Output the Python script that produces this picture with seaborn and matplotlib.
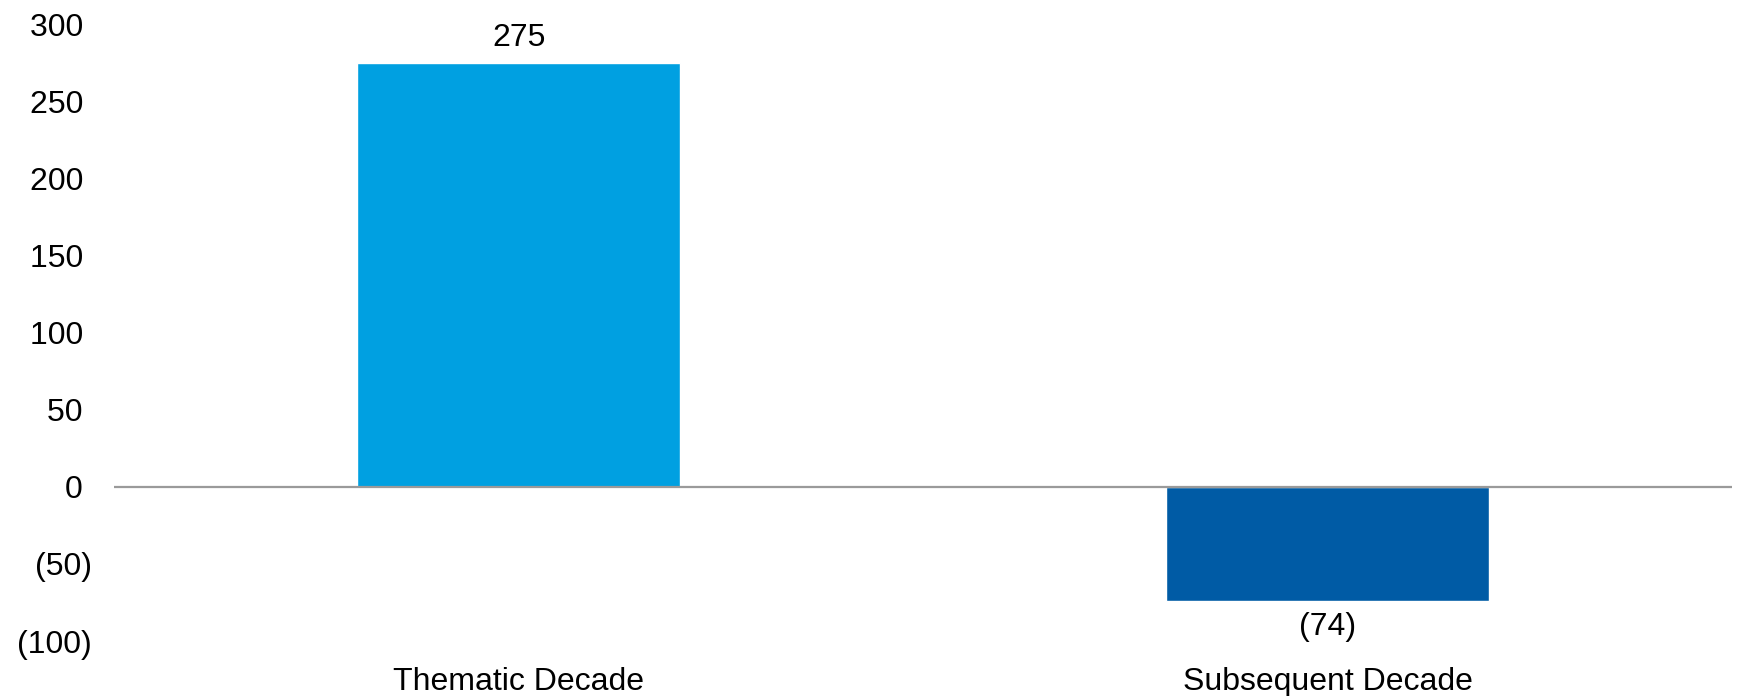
import matplotlib
matplotlib.use("Agg")
import matplotlib.pyplot as plt
import seaborn as sns
import pandas as pd
from matplotlib.ticker import FuncFormatter

categories = ["Thematic Decade", "Subsequent Decade"]
values = [275, -74]
bar_colors = ["#00A0E1", "#005BA5"]
y_ticks = [-100, -50, 0, 50, 100, 150, 200, 250, 300]

sns.set_theme(style="white")
plt.rcParams['font.family'] = ['Liberation Sans', 'DejaVu Sans']
plt.rcParams['text.color'] = 'black'

df = pd.DataFrame({"cat": categories, "val": values})

fig = plt.figure(figsize=(17.39, 6.96), dpi=100)
ax = fig.add_axes([0.0656, 0.079, 0.9304, 0.886])

sns.barplot(data=df, x="cat", y="val", hue="cat", palette=bar_colors,
            width=0.40, legend=False, ax=ax, saturation=1)

ax.set_ylim(-100, 300)
ax.set_xlim(-0.5, 1.5)
ax.set_yticks(y_ticks)

def fmt(v, pos=None):
    v = int(round(v))
    return f"({abs(v)})" if v < 0 else f"{v} "
ax.yaxis.set_major_formatter(FuncFormatter(fmt))

ax.axhline(0, color="#9A9A9A", lw=1.6, zorder=3)
for s in ax.spines.values():
    s.set_visible(False)
ax.tick_params(axis="both", length=0, labelsize=23, colors="black")
ax.tick_params(axis="y", pad=16)
ax.tick_params(axis="x", pad=19)
ax.set_xlabel("")
ax.set_ylabel("")

for i, v in enumerate(values):
    if v >= 0:
        ax.annotate(fmt(v).strip(), (i, v), xytext=(0, 7), textcoords="offset points",
                    ha="center", va="bottom", fontsize=23, color="black")
    else:
        ax.annotate(fmt(v), (i, v), xytext=(0, -8), textcoords="offset points",
                    ha="center", va="top", fontsize=23, color="black")

fig.savefig("out.png", dpi=100)
